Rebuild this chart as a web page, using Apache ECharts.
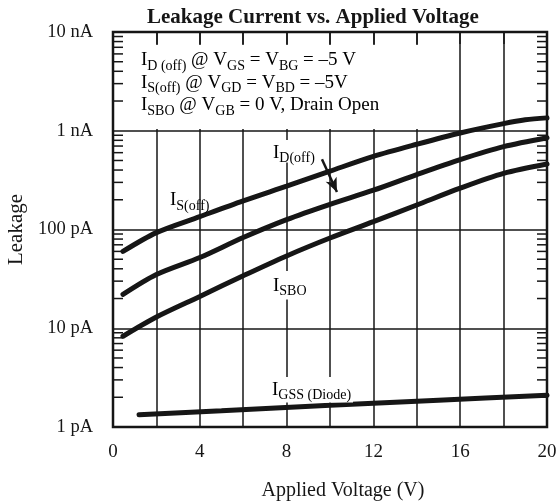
<!DOCTYPE html>
<html>
<head>
<meta charset="utf-8">
<script src="https://cdn.jsdelivr.net/npm/echarts@6/dist/echarts.min.js"></script>
<style>
  html, body { margin: 0; padding: 0; background: #fff; }
  #chart { width: 560px; height: 503px; }
</style>
</head>
<body>
<div id="chart"></div>
<script>
// leakage in pA vs applied voltage (V)
const isOff = [[0.46, 60], [2, 93], [4, 135], [6, 195], [8, 275], [10, 390], [12, 550], [14, 730], [16, 950], [18, 1180], [19, 1290], [20, 1350]];
const idOff = [[0.46, 22], [2, 35], [4, 52], [6, 83], [8, 126], [10, 180], [12, 250], [14, 360], [16, 510], [18, 690], [20, 850]];
const isbo = [[0.46, 8.3], [2, 13], [4, 21], [6, 34], [8, 54], [10, 82], [12, 120], [14, 177], [16, 262], [18, 370], [20, 460]];
const igss = [[1.2, 1.33], [5, 1.46], [10, 1.66], [15, 1.87], [20, 2.1]];

const yTickValues = [1, 10, 100, 1000, 10000];
const yTickLabels = ['1 pA', '10 pA', '100 pA', '1 nA', '10 nA'];
const xTickLabels = [0, 4, 8, 12, 16, 20];
const minorTicks = [2, 3, 4, 5, 6, 7, 8, 9, 20, 30, 40, 50, 60, 70, 80, 90,
  200, 300, 400, 500, 600, 700, 800, 900, 2000, 3000, 4000, 5000, 6000, 7000, 8000, 9000];

const serif = '"Liberation Serif", "DejaVu Serif", serif';
const ink = '#161616';

let myChart = echarts.init(document.getElementById('chart'));

const rich = {
    m: { fontSize: 19, fontFamily: serif, color: ink, lineHeight: 22.5, verticalAlign: 'bottom' },
    s: { fontSize: 14, fontFamily: serif, color: ink, lineHeight: 22.5, verticalAlign: 'bottom', padding: [0, 0, -3, 0] }
};

function curve(name, data) {
    return {
        name: name,
        type: 'line',
        data: data,
        smooth: 0.3,
        symbol: 'none',
        lineStyle: { color: ink, width: 5, cap: 'round' },
        z: 4
    };
}

let option = {
    animation: false,
    title: {
        text: 'Leakage Current vs. Applied Voltage',
        left: 142,
        top: 2,
        textStyle: { fontFamily: serif, fontWeight: 'bold', fontSize: 21, color: ink }
    },
    grid: {
        left: 113, right: 13, top: 32, bottom: 76,
        outerBoundsMode: 'none',
        show: true, borderColor: ink, borderWidth: 2.5, backgroundColor: 'transparent'
    },
    xAxis: [
        {
            type: 'value', min: 0, max: 20, interval: 2,
            name: 'Applied Voltage (V)', nameLocation: 'middle', nameGap: 54,
            nameTextStyle: { fontFamily: serif, fontSize: 20, color: ink, padding: [0, 0, 0, 26] },
            axisLine: { show: false },
            axisTick: { show: false },
            axisLabel: {
                fontFamily: serif, fontSize: 19, color: ink, margin: 16,
                formatter: v => xTickLabels.indexOf(v) >= 0 ? String(v) : ''
            },
            splitLine: { show: true, lineStyle: { color: ink, width: 1.5 } }
        },
        {
            type: 'value', min: 0, max: 20, interval: 2, position: 'top',
            axisLine: { show: false },
            axisTick: { show: true, inside: true, length: 12, lineStyle: { color: ink, width: 1.5 } },
            axisLabel: { show: false },
            splitLine: { show: false },
            z: 5
        }
    ],
    yAxis: {
        type: 'log', logBase: 10, min: 1, max: 10000,
        name: 'Leakage', nameLocation: 'middle', nameGap: 84, nameRotate: 90,
        nameTextStyle: { fontFamily: serif, fontSize: 21, color: ink },
        axisLine: { show: false },
        axisTick: { show: false },
        axisLabel: {
            fontFamily: serif, fontSize: 18.5, color: ink, margin: 20,
            formatter: v => {
                let i = yTickValues.indexOf(Math.round(v));
                return i >= 0 ? yTickLabels[i] : '';
            }
        },
        splitLine: { show: true, lineStyle: { color: ink, width: 1.5 } }
    },
    graphic: [
        // blank panel behind the conditions text
        { type: 'rect', shape: { x: 126, y: 45, width: 310, height: 84 }, style: { fill: '#fff' }, z: 1 },
        {
            type: 'text', left: 141, top: 51, z: 6,
            style: {
                text: '{m|I}{s|D (off)}{m| @ V}{s|GS}{m| = V}{s|BG}{m| = \u20135 V}\n' +
                      '{m|I}{s|S(off)}{m| @ V}{s|GD}{m| = V}{s|BD}{m| = \u20135V}\n' +
                      '{m|I}{s|SBO}{m| @ V}{s|GB}{m| = 0 V, Drain Open}',
                rich: rich
            }
        },
        {
            type: 'text', left: 273, top: 140, z: 6,
            style: { text: '{m|I}{s|D(off)}', rich: rich, backgroundColor: '#fff' }
        },
        {
            type: 'text', left: 170, top: 191, z: 6,
            style: { text: '{m|I}{s|S(off)}', rich: rich }
        },
        {
            type: 'text', left: 271, top: 271, z: 6,
            style: { text: '{m|I}{s|SBO}', rich: rich, backgroundColor: '#fff', padding: [2, 2, 4, 2] }
        },
        {
            type: 'text', left: 270, top: 377, z: 6,
            style: { text: '{m|I}{s|GSS (Diode)}', rich: rich, backgroundColor: '#fff', padding: [0, 2, 3, 2] }
        }
    ],
    series: [
        curve('IS(off)', isOff),
        Object.assign(curve('ID(off)', idOff), {
            markLine: {
                silent: true,
                symbol: ['none', 'arrow'],
                symbolSize: [9, 14],
                label: { show: false },
                lineStyle: { color: ink, width: 2.5, type: 'solid' },
                data: [[{ coord: [9.63, 515] }, { coord: [10.32, 240] }]]
            }
        }),
        curve('ISBO', isbo),
        curve('IGSS', igss),
        {
            // log-scale minor ticks on the left and right frame
            type: 'custom',
            data: minorTicks.map(v => [0, v]),
            silent: true,
            z: 5,
            renderItem: function (params, api) {
                let v = api.value(1);
                let pl = api.coord([0, v]);
                let pr = api.coord([20, v]);
                let len = 10;
                return {
                    type: 'group',
                    children: [
                        { type: 'line', shape: { x1: pl[0], y1: pl[1], x2: pl[0] + len, y2: pl[1] }, style: { stroke: ink, lineWidth: 1.5 } },
                        { type: 'line', shape: { x1: pr[0], y1: pr[1], x2: pr[0] - len, y2: pr[1] }, style: { stroke: ink, lineWidth: 1.5 } }
                    ]
                };
            }
        }
    ]
};

myChart.setOption(option, true);
</script>
</body>
</html>
